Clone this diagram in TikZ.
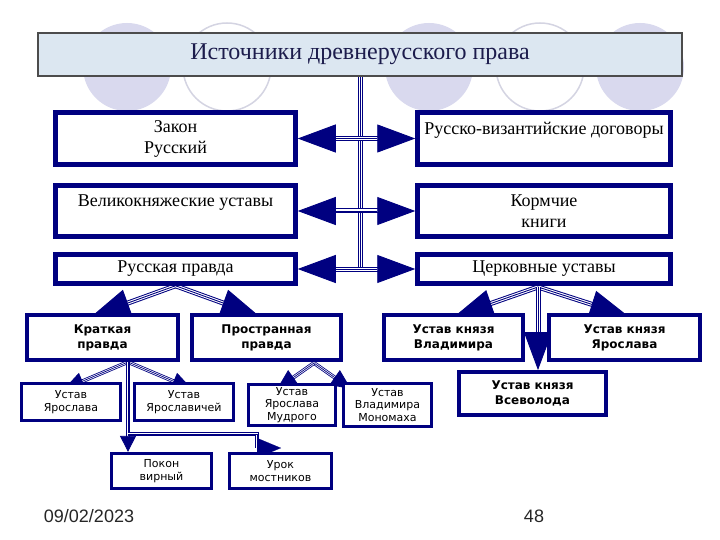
\documentclass[tikz,border=0pt]{standalone}
\usepackage{fontspec}
\setmainfont{Liberation Serif}
\newfontfamily\dvs{DejaVu Sans}
\newfontfamily\ars{Liberation Sans}
\usetikzlibrary{arrows.meta,calc,backgrounds}
\definecolor{nv}{HTML}{000080}
\definecolor{lav}{HTML}{D9D9EE}
\definecolor{lavline}{HTML}{D4D4E2}
\definecolor{ttlfill}{HTML}{DCE7F1}
\definecolor{ttltext}{HTML}{1C1C4C}
\tikzset{
  box/.style={draw=nv, line width=4.5pt, fill=white, inner sep=0pt, align=center},
  rowbox/.style={box, font=\fontsize{18}{21}\selectfont},
  boldbox/.style={box, line width=3.8pt, font=\dvs\bfseries\fontsize{12}{15}\selectfont},
  smallbox/.style={box, line width=3.2pt, font=\dvs\fontsize{11}{12.5}\selectfont},
  trip/.style={line width=0.9pt, draw=nv,
    preaction={draw=nv, line width=5pt, arrows=-, shorten >=#1},
    preaction={draw=white, line width=3pt, arrows=-, shorten >=#1}},
  trip/.default=0pt,
  tripsm/.style={line width=0.7pt, draw=nv,
    preaction={draw=nv, line width=3.8pt, arrows=-, shorten >=#1},
    preaction={draw=white, line width=2.2pt, arrows=-, shorten >=#1}},
  tripsm/.default=0pt,
  bigarr/.style={trip=37pt, -{Triangle[length=38pt,width=28pt]}},
  smallarr/.style={tripsm=19pt, -{Triangle[length=20pt,width=18pt]}},
  pokarr/.style={tripsm=15pt, -{Triangle[length=16pt,width=16pt]}},
  bgcirc/.style={fill=lav},
  olcirc/.style={draw=lavline, line width=1.5pt, fill=white},
}
\begin{document}
\begin{tikzpicture}[x=1pt,y=-1pt]
\useasboundingbox (0,0) rectangle (720,540);

% title
\node[draw=black!70, line width=1.5pt, fill=ttlfill, minimum width=644pt, minimum height=43pt,
      inner sep=0pt, text=ttltext, font=\fontsize{24}{28}\selectfont] (title) at (360,54.5)
      {Источники древнерусского права};

% upper boxes
\node[rowbox, minimum width=240pt, minimum height=52pt] (zakon) at (175.5,138.5) {Закон\\Русский};
\node[rowbox, minimum width=240pt, minimum height=51pt] (velik) at (175.5,211) {Великокняжеские уставы\\~};
\node[rowbox, minimum width=240pt, minimum height=29pt] (rp) at (175.5,269) {Русская правда};
\node[rowbox, minimum width=253pt, minimum height=52pt] (rvd) at (544,138.5) {Русско-византийские договоры\\~};
\node[rowbox, minimum width=253pt, minimum height=51pt] (korm) at (544,211) {Кормчие\\книги};
\node[rowbox, minimum width=253pt, minimum height=29pt] (cu) at (544,269) {Церковные уставы};

% second level
\node[boldbox, minimum width=151pt, minimum height=45pt] (krat) at (102.5,337.5) {Краткая\\правда};
\node[boldbox, minimum width=149pt, minimum height=45pt] (prost) at (266.5,337.5) {Пространная\\правда};
\node[boldbox, minimum width=139pt, minimum height=45pt] (vlad) at (453.5,337.5) {Устав князя\\Владимира};
\node[boldbox, minimum width=151pt, minimum height=45pt] (yar) at (624.5,337.5) {Устав князя\\Ярослава};
\node[boldbox, minimum width=147pt, minimum height=43pt] (vsev) at (532.5,393.5) {Устав князя\\Всеволода};

% third level
\node[smallbox, minimum width=99pt, minimum height=37pt] (uy) at (71,402) {Устав\\Ярослава};
\node[smallbox, minimum width=99pt, minimum height=37pt] (uyi) at (184,402) {Устав\\Ярославичей};
\node[smallbox, minimum width=87pt, minimum height=41pt] (uym) at (292,405) {Устав\\Ярослава\\Мудрого};
\node[smallbox, minimum width=88pt, minimum height=43pt] (uvm) at (387.5,405) {Устав\\Владимира\\Мономаха};
\node[smallbox, minimum width=100pt, minimum height=35pt] (pv) at (161.5,471) {Покон\\вирный};
\node[smallbox, minimum width=102pt, minimum height=35pt] (um) at (280.5,471) {Урок\\мостников};

% footer
\node[font=\ars\fontsize{18}{20}\selectfont, text=black!85] (date) at (89,516) {09/02/2023};
\node[font=\ars\fontsize{18}{20}\selectfont, text=black!85] (num) at (534,516) {48};

% coordinates
\coordinate (sp) at (360,269);
\coordinate (r1) at (sp |- zakon);
\coordinate (r2) at (sp |- velik);
\coordinate (r3) at (sp |- rp);
\coordinate (tk) at (92,316);
\coordinate (tp) at (259,316);
\coordinate (cs) at (538,287);
\coordinate (tv) at (455,316);
\coordinate (ty) at (628,316);
\coordinate (ks) at (128,362);
\coordinate (tuy) at (64,389);
\coordinate (tuyi) at (192,389);
\coordinate (kb) at (128,434);
\coordinate (ue) at (257,448);
\coordinate (ut) at (281,448);
\coordinate (ps) at (314,363);
\coordinate (tm) at (277,389);
\coordinate (tmm) at (351,389);

\begin{pgfonlayer}{background}
  \fill[white] (0,0) rectangle (720,540);
  % decorative circles
  \fill[bgcirc] (127,67) circle (44);
  \draw[olcirc] (227,67) circle (44);
  \fill[bgcirc] (429,67) circle (44);
  \draw[olcirc] (540,67) circle (44);
  \fill[bgcirc] (640,67) circle (44);
  % spine
  \draw[trip] (title.south) -- (sp);
  % horizontal connectors
  \draw[bigarr] (r1) -- (zakon);
  \draw[bigarr] (r1) -- (rvd);
  \draw[bigarr] (r2) -- (velik);
  \draw[bigarr] (r2) -- (korm);
  \draw[bigarr] (r3) -- (rp);
  \draw[bigarr] (r3) -- (cu);
  % Russkaya pravda
  \draw[bigarr] (rp.south) -- (tk);
  \draw[bigarr] (rp.south) -- (tp);
  % Church statutes
  \draw[bigarr] (cs) -- (tv);
  \draw[bigarr] (cs) -- (ty);
  \draw[bigarr] (cs) -- (cs |- vsev.north);
  % Kratkaya pravda
  \draw[smallarr] (ks) -- (tuy);
  \draw[smallarr] (ks) -- (tuyi);
  \draw[pokarr] (ks) -- (ks |- pv.north);
  % Prostrannaya pravda
  \draw[smallarr] (ps) -- (tmm);
  \draw[smallarr] (ps) -- (tm);
  % branch to Urok mostnikov
  \draw[tripsm] (kb) -| (ue);
  \draw[nv, line width=0.1pt, -{Triangle[length=24pt,width=20pt]}] (ue) -- (ut);
\end{pgfonlayer}
\end{tikzpicture}
\end{document}
